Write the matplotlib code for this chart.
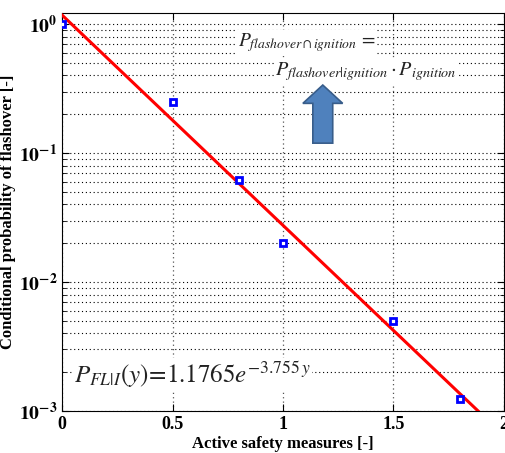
import numpy as np
import matplotlib
matplotlib.use('Agg')
import matplotlib.pyplot as plt
from matplotlib.ticker import FuncFormatter, LogLocator, NullFormatter
from matplotlib.patches import FancyArrow

plt.rcParams['font.family'] = ['Liberation Serif', 'DejaVu Serif']
plt.rcParams['mathtext.fontset'] = 'stix'

# measured points
measures = [0, 0.5, 0.8, 1.0, 1.5, 1.8]
prob = [1.0, 0.25, 0.062, 0.02, 0.005, 0.00125]

# fit parameters
fit_a = 1.1765
fit_b = 3.755

x_ticks = [0, 0.5, 1, 1.5, 2]
x_tick_labels = ['0', '0.5', '1', '1.5', '2']

fig = plt.figure(figsize=(5.05, 4.53), dpi=100)
ax = fig.add_axes([0.1228, 0.0927, 0.8752, 0.8786])

xs = np.linspace(0, 2, 200)
ax.semilogy(xs, fit_a * np.exp(-fit_b * xs), color='red', lw=2.2, zorder=3)
ax.semilogy(measures, prob, 's', ms=5, mfc='white', mec='blue', mew=2, zorder=4)

ax.set_xlim(0, 2)
ax.set_ylim(1e-3, 1.22)
ax.set_xticks(x_ticks)
ax.set_xticklabels(x_tick_labels, fontweight='bold', fontsize=13)
ax.yaxis.set_major_locator(LogLocator(base=10, numticks=10))
ax.yaxis.set_minor_locator(LogLocator(base=10, subs=np.arange(2, 10), numticks=20))
ax.yaxis.set_major_formatter(FuncFormatter(lambda v, p: r'$\mathbf{10^{%d}}$' % round(np.log10(v))))
ax.yaxis.set_minor_formatter(NullFormatter())

ax.tick_params(which='both', direction='in', top=True, right=True)
ax.tick_params(which='major', length=5)
ax.tick_params(which='minor', length=3)
ax.tick_params(axis='y', labelsize=14)

ax.grid(True, which='major', axis='x', ls=(0, (1, 2.5)), color='#555555', lw=0.9)
ax.grid(True, which='both', axis='y', ls=(0, (1, 2.5)), color='black', lw=0.8)

ax.set_xlabel('Active safety measures [-]', fontweight='bold', fontsize=12, labelpad=2)
ax.set_ylabel('Conditional probability of flashover [-]', fontweight='bold', fontsize=12, labelpad=2)

bbox = dict(facecolor='white', edgecolor='none', pad=1)
ax.text(0.398, 0.925, r'$P_{flashover\cap ignition}\,=$', transform=ax.transAxes,
        fontsize=14, va='center', ha='left', color='#222222', bbox=bbox, zorder=5)
ax.text(0.482, 0.852, r'$P_{flashover|ignition}\cdot P_{ignition}$', transform=ax.transAxes,
        fontsize=14.5, va='center', ha='left', color='#222222', bbox=bbox, zorder=5)
ax.text(0.026, 0.09, r'$P_{FL|I}\left(y\right)\!=\!1.1765e^{-3.755\,y}$', transform=ax.transAxes,
        fontsize=18, va='center', ha='left', color='#222222', bbox=bbox, zorder=5)

arrow = FancyArrow(0.59, 0.673, 0, 0.146, width=0.045, head_width=0.09, head_length=0.046,
                   length_includes_head=True, transform=ax.transAxes,
                   facecolor='#4F81BD', edgecolor='#385D8A', lw=1.2, zorder=5)
ax.add_patch(arrow)

fig.savefig('out.png', dpi=100)
